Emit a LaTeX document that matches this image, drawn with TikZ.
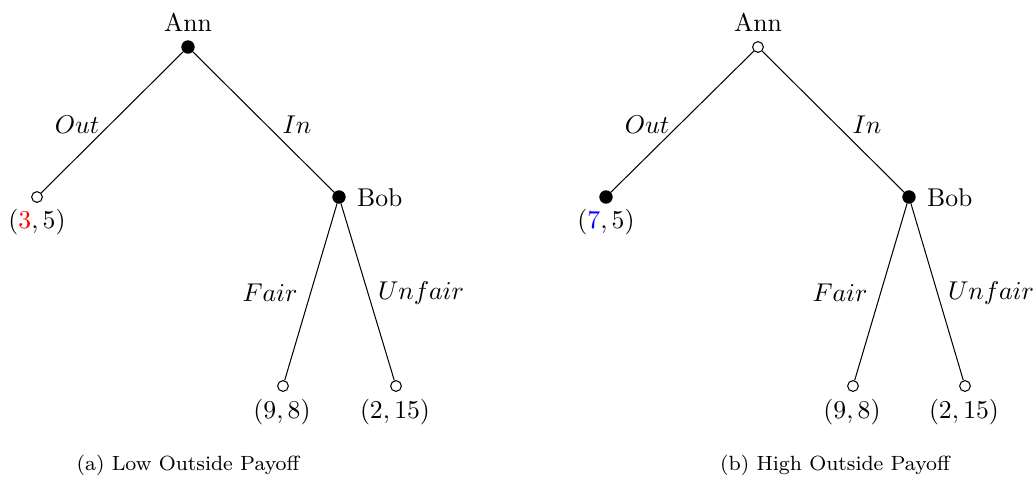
\documentclass[tikz,border=0pt]{standalone}
\usepackage{xcolor}
\begin{document}
\begin{tikzpicture}[x=0.389pt,y=-0.389pt,
  decision/.style={circle,fill=black,draw=black,inner sep=0pt,minimum size=4.8pt},
  terminal/.style={circle,fill=white,draw=black,inner sep=0pt,minimum size=4.2pt,line width=0.4pt},
  edge/.style={draw=black,line width=0.4pt},
  captext/.style={font=\footnotesize}]
\useasboundingbox (0,0) rectangle (1036,480);
% Left tree
\node[decision] (a1) at (188,47) {};
\node[terminal] (a2) at (37,197) {};
\node[decision] (a3) at (339,197) {};
\node[terminal] (a4) at (283,386) {};
\node[terminal] (a5) at (396,386) {};
\node (a1l) at (188,22) {Ann};
\node[anchor=west] (a3l) at (348,198) {Bob};
\node (a2l) at (37,222) {$(\textcolor{red}{3},5)$};
\node (a4l) at (282,412) {$(9,8)$};
\node (a5l) at (395,412) {$(2,15)$};
\draw[edge] (a1) -- (a2);
\draw[edge] (a1) -- (a3);
\draw[edge] (a3) -- (a4);
\draw[edge] (a3) -- (a5);
\node (outa) at (77,125) {$Out$};
\node (ina) at (297,125) {$In$};
\node (faira) at (270,293) {$Fair$};
\node (unfaira) at (421,293) {$Unfair$};
\node[captext] (capa) at (188,465) {(a) Low Outside Payoff};
% Right tree
\node[terminal] (b1) at (758,47) {};
\node[decision] (b2) at (606,197) {};
\node[decision] (b3) at (909,197) {};
\node[terminal] (b4) at (853,386) {};
\node[terminal] (b5) at (965,386) {};
\node (b1l) at (758,22) {Ann};
\node[anchor=west] (b3l) at (918,198) {Bob};
\node (b2l) at (606,222) {$(\textcolor{blue}{7},5)$};
\node (b4l) at (852,412) {$(9,8)$};
\node (b5l) at (964,412) {$(2,15)$};
\draw[edge] (b1) -- (b2);
\draw[edge] (b1) -- (b3);
\draw[edge] (b3) -- (b4);
\draw[edge] (b3) -- (b5);
\node (outb) at (647,125) {$Out$};
\node (inb) at (867,125) {$In$};
\node (fairb) at (840,293) {$Fair$};
\node (unfairb) at (991,293) {$Unfair$};
\node[captext] (capb) at (835,465) {(b) High Outside Payoff};
\end{tikzpicture}
\end{document}
